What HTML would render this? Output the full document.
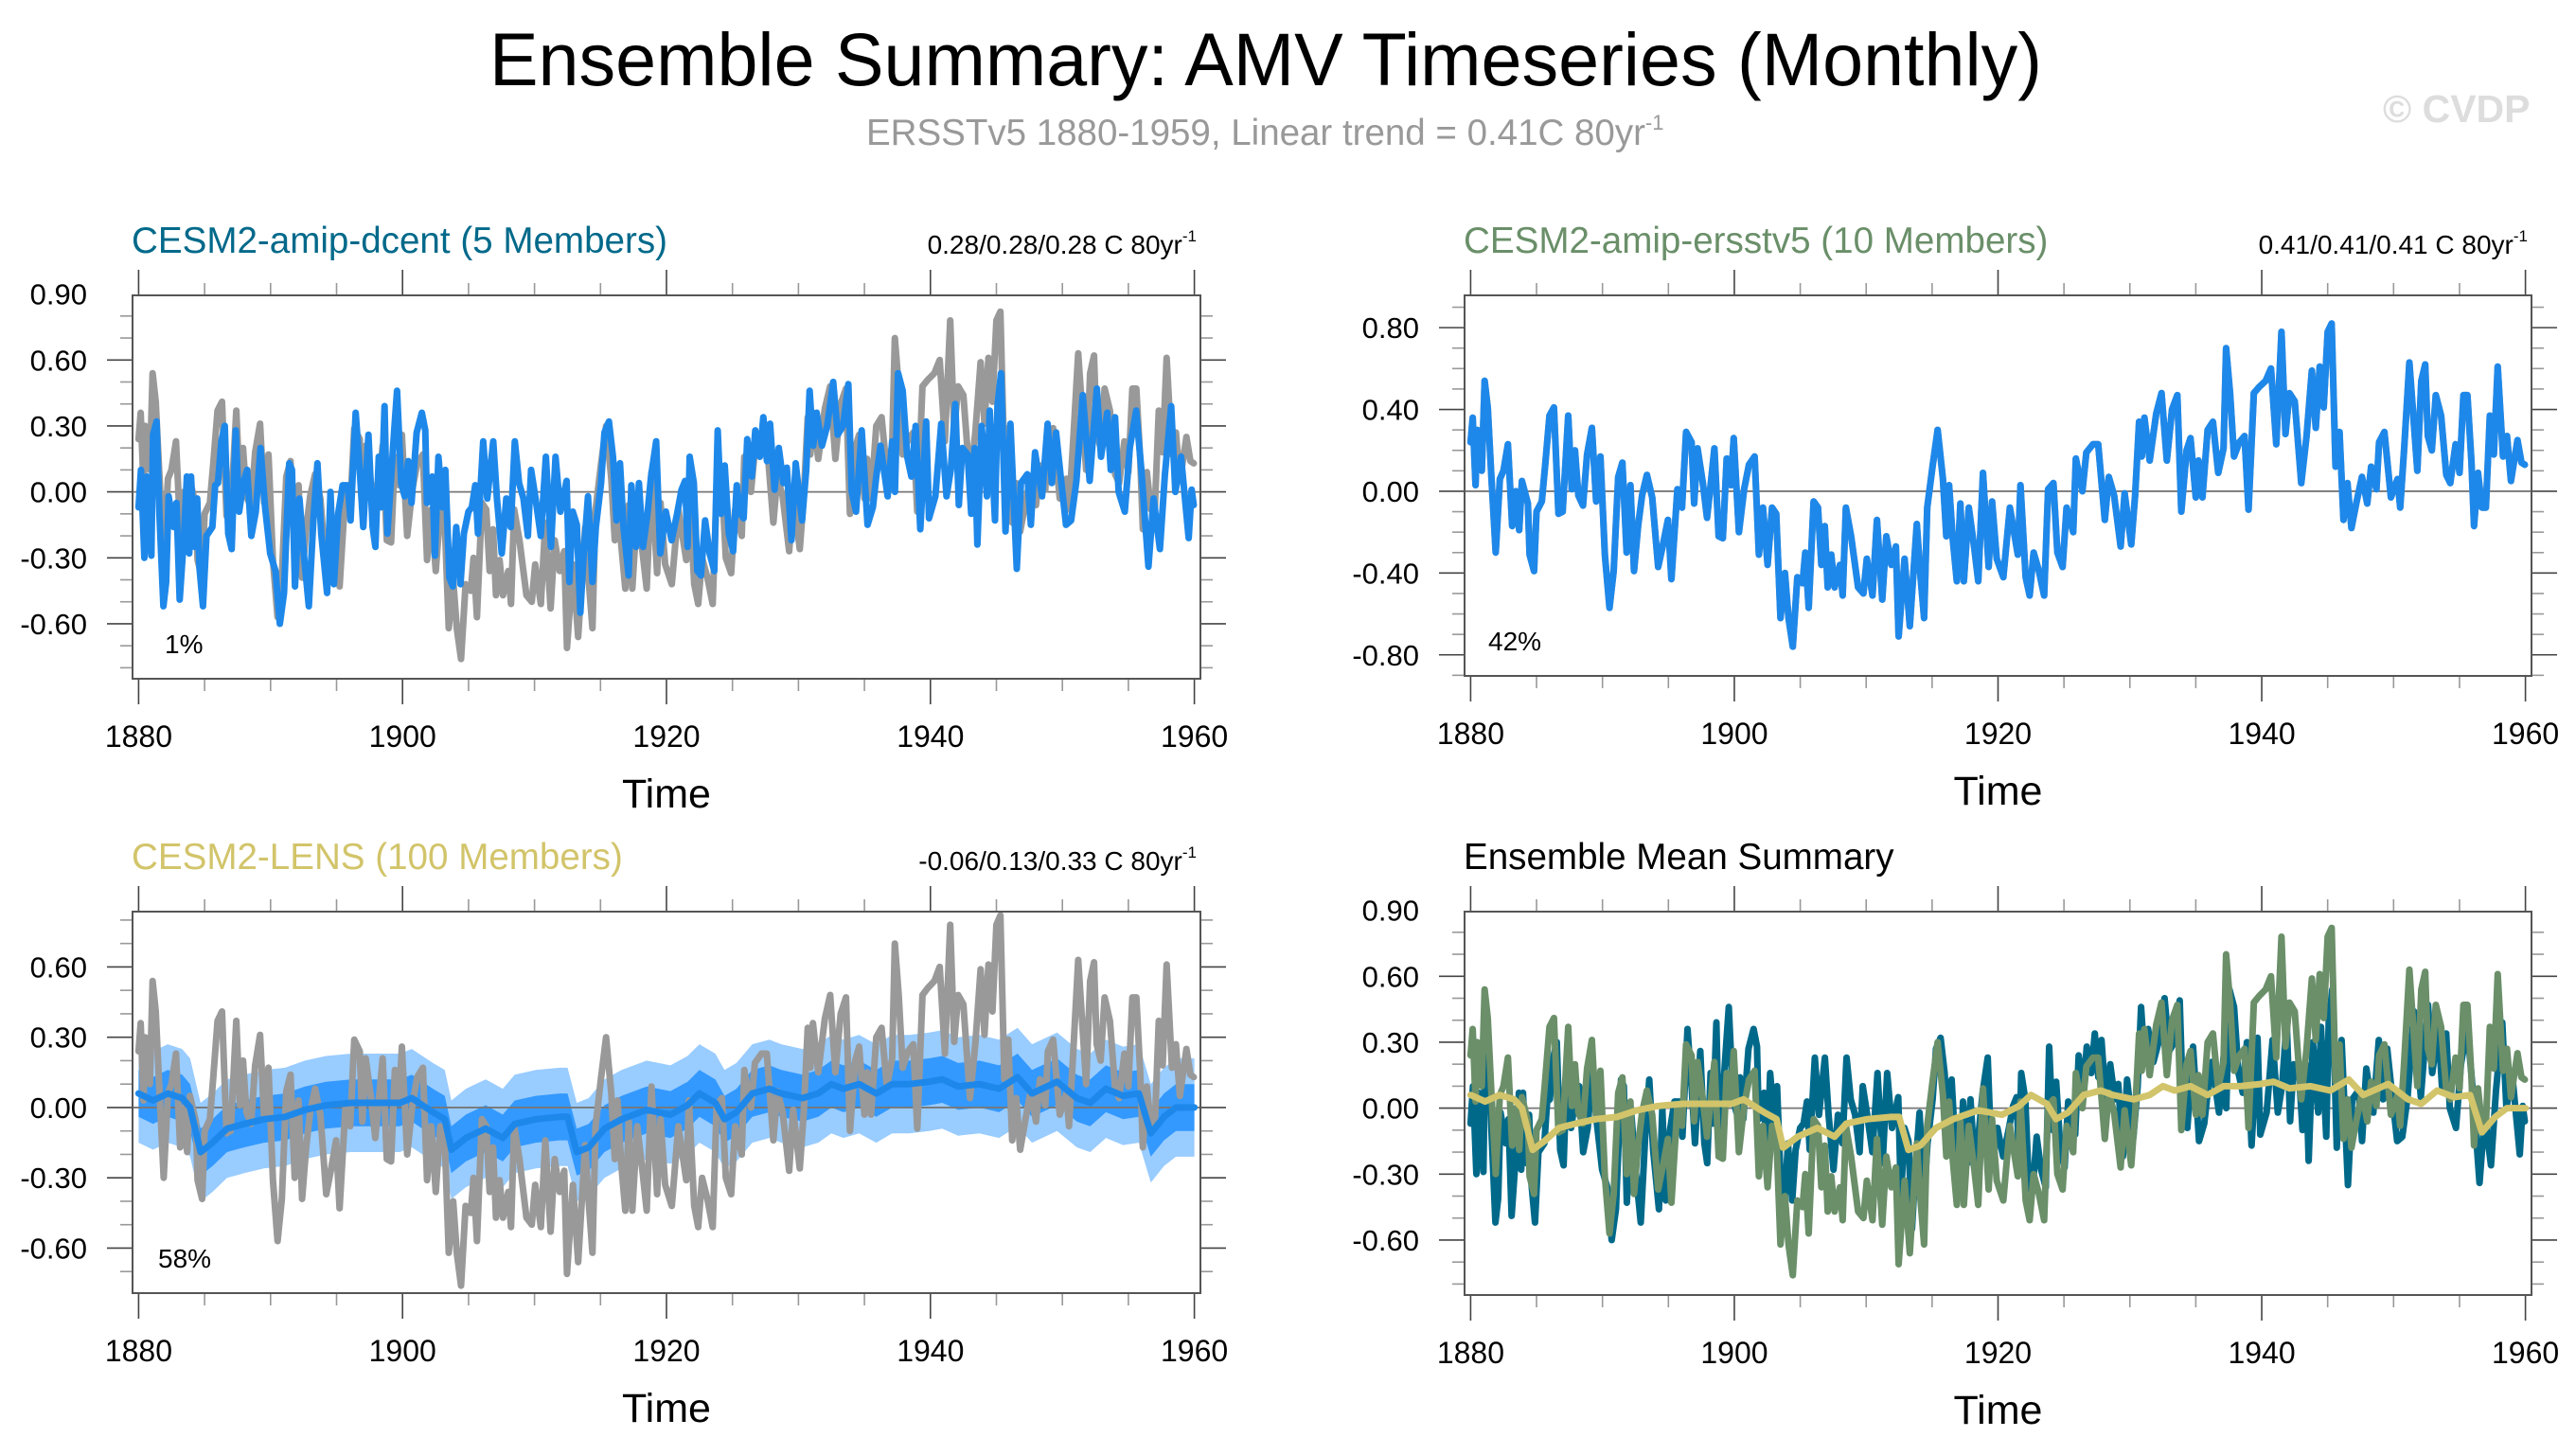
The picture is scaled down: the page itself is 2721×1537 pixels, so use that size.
<!DOCTYPE html>
<html><head><meta charset="utf-8"><title>Ensemble Summary: AMV Timeseries (Monthly)</title>
<style>html,body{margin:0;padding:0;background:#fff}svg{display:block;font-family:"Liberation Sans",Arial,sans-serif}</style>
</head><body>
<svg id="chart" xmlns="http://www.w3.org/2000/svg" width="2721" height="1537" viewBox="0 0 2721 1537">
<rect width="2721" height="1537" fill="#fff"/>
<text x="1337" y="90" font-size="79" text-anchor="middle" textLength="1640" lengthAdjust="spacingAndGlyphs">Ensemble Summary: AMV Timeseries (Monthly)</text>
<text x="915" y="153" font-size="38.5" fill="#999">ERSSTv5 1880-1959, Linear trend = 0.41C 80yr<tspan font-size="22" dy="-16">-1</tspan></text>
<text x="2517" y="129" font-size="41" font-weight="bold" fill="#dddddd">© CVDP</text>
<g id="panels"></g>
</svg>
<script>
// ---------- data (time in years, AMV in °C) ----------
const obsYears = [1880.0,1880.16,1880.37,1880.5,1880.85,1881.06,1881.3,1881.56,1881.9,1882.22,1882.49,1882.83,1883.15,1883.41,1883.68,1883.89,1884.34,1884.47,1884.81,1885.0,1885.4,1885.66,1885.98,1886.32,1886.66,1886.98,1887.4,1887.67,1887.91,1888.17,1888.52,1888.83,1889.2,1889.52,1889.84,1890.18,1890.53,1890.85,1891.19,1891.51,1891.83,1892.12,1892.39,1892.7,1893.0,1893.37,1893.77,1894.22,1894.56,1894.96,1895.23,1895.68,1896.03,1896.34,1896.76,1896.95,1897.21,1897.61,1897.93,1898.2,1898.49,1898.81,1899.13,1899.42,1899.74,1899.95,1900.35,1900.74,1901.11,1901.54,1901.86,1902.17,1902.52,1902.86,1903.18,1903.5,1903.84,1904.11,1904.43,1904.78,1905.17,1905.38,1905.64,1906.01,1906.34,1906.6,1906.86,1907.08,1907.35,1907.61,1908.01,1908.22,1908.46,1908.86,1909.39,1909.79,1910.05,1910.48,1910.82,1911.22,1911.53,1911.91,1912.25,1912.46,1912.91,1913.31,1913.84,1914.1,1914.39,1914.63,1915.03,1915.42,1915.82,1916.08,1916.29,1916.56,1916.88,1917.14,1917.41,1917.78,1918.18,1918.5,1918.86,1919.29,1919.55,1919.9,1920.4,1920.9,1921.5,1921.7,1922.1,1922.4,1922.7,1923.1,1923.5,1923.8,1924.2,1924.5,1924.9,1925.2,1925.7,1925.9,1926.4,1926.7,1927.2,1927.6,1928.1,1928.4,1928.8,1929.3,1929.6,1930.1,1930.4,1930.7,1930.9,1931.1,1931.5,1932.0,1932.4,1932.8,1933.2,1933.6,1933.9,1934.3,1934.6,1935.0,1935.2,1935.5,1935.9,1936.3,1936.7,1937.1,1937.3,1937.6,1937.9,1938.3,1938.7,1939.0,1939.4,1939.8,1940.3,1940.7,1941.1,1941.5,1941.8,1942.1,1942.5,1943.0,1943.4,1943.8,1944.1,1944.4,1944.7,1945.0,1945.3,1945.6,1945.9,1946.2,1946.5,1946.8,1947.2,1947.6,1948.0,1948.3,1948.7,1948.9,1949.3,1949.8,1950.3,1950.5,1950.8,1951.2,1951.8,1952.1,1952.4,1952.6,1952.9,1953.2,1953.6,1954.0,1954.3,1954.7,1955.0,1955.3,1955.6,1955.9,1956.1,1956.4,1956.7,1957.0,1957.3,1957.6,1957.9,1958.3,1958.6,1958.9,1959.4,1959.7,1959.95];
const obsValues = [0.24,0.36,0.03,0.30,0.10,0.54,0.41,0.09,-0.30,0.06,0.10,0.23,-0.17,0.00,-0.19,0.05,-0.06,-0.31,-0.39,-0.10,-0.05,0.13,0.37,0.41,-0.11,-0.10,0.37,0.01,0.20,-0.02,-0.07,0.18,0.31,-0.05,0.17,-0.31,-0.57,-0.39,0.07,0.14,-0.30,0.03,-0.39,-0.17,-0.02,0.08,-0.03,-0.37,-0.27,-0.14,-0.43,0.01,-0.08,0.29,0.24,-0.06,0.21,0.04,-0.13,0.03,0.21,-0.22,-0.23,0.16,0.03,0.26,-0.20,0.01,0.13,0.17,-0.31,-0.08,-0.36,-0.08,-0.11,-0.62,-0.40,-0.62,-0.76,-0.42,-0.45,-0.30,-0.57,-0.05,-0.08,-0.36,-0.17,-0.47,-0.31,-0.47,-0.36,-0.51,-0.08,-0.22,-0.47,-0.50,-0.33,-0.51,-0.14,-0.53,-0.22,-0.36,-0.27,-0.71,-0.33,-0.66,-0.16,-0.40,-0.62,-0.08,0.12,0.30,0.06,-0.22,0.03,-0.23,-0.44,-0.06,-0.44,-0.08,-0.27,-0.44,0.09,-0.37,-0.05,-0.33,-0.42,-0.08,-0.31,0.03,-0.42,-0.51,-0.30,-0.39,-0.51,0.01,0.04,-0.30,-0.37,-0.08,-0.20,0.16,0.00,0.19,0.23,0.23,-0.14,0.07,-0.02,-0.27,-0.01,-0.26,-0.02,0.34,0.17,0.36,0.15,0.38,0.48,0.15,0.40,0.47,-0.10,0.20,0.26,-0.03,0.15,-0.03,0.30,0.34,0.09,0.21,0.70,0.48,0.17,0.24,0.27,-0.09,0.48,0.51,0.54,0.60,0.23,0.78,0.28,0.48,0.44,0.04,0.27,0.59,0.31,0.61,0.41,0.78,0.82,0.12,0.29,-0.14,0.04,-0.18,-0.05,0.07,-0.06,0.12,0.01,0.24,0.29,-0.03,0.06,-0.08,0.21,0.63,0.10,0.54,0.62,0.27,0.20,0.47,0.37,0.08,0.04,0.23,0.09,0.47,0.47,0.15,-0.17,0.09,-0.08,-0.08,0.37,0.18,0.61,0.17,0.27,0.05,0.25,0.14,0.13];

const dcentYears = [1880.0,1880.18,1880.44,1880.63,1880.97,1881.10,1881.36,1881.57,1881.88,1882.09,1882.27,1882.66,1882.87,1883.11,1883.45,1883.66,1883.84,1883.97,1884.23,1884.44,1884.62,1884.88,1885.14,1885.59,1885.80,1886.01,1886.27,1886.53,1886.79,1887.05,1887.36,1887.62,1887.94,1888.22,1888.54,1888.88,1889.24,1889.58,1889.97,1890.37,1890.70,1891.02,1891.41,1891.62,1891.85,1892.19,1892.53,1892.90,1893.24,1893.55,1893.84,1894.28,1894.54,1894.80,1895.12,1895.46,1895.85,1896.06,1896.45,1896.76,1897.02,1897.42,1897.73,1897.94,1898.20,1898.38,1898.64,1898.85,1899.37,1899.58,1899.90,1900.16,1900.42,1900.68,1901.07,1901.46,1901.72,1901.85,1902.25,1902.45,1902.72,1903.03,1903.24,1903.55,1903.81,1904.07,1904.39,1904.65,1904.99,1905.25,1905.51,1905.72,1906.11,1906.42,1906.87,1907.15,1907.52,1907.86,1908.20,1908.51,1908.83,1909.16,1909.50,1909.74,1910.08,1910.47,1910.86,1911.25,1911.59,1911.96,1912.43,1912.64,1912.90,1913.21,1913.47,1913.73,1914.05,1914.39,1914.65,1915.04,1915.30,1915.64,1915.95,1916.21,1916.48,1916.74,1917.13,1917.34,1917.70,1917.91,1918.22,1918.56,1918.83,1919.22,1919.53,1919.95,1920.39,1920.80,1921.14,1921.41,1921.60,1921.76,1922.07,1922.34,1922.61,1922.93,1923.27,1923.62,1923.88,1924.15,1924.41,1924.73,1925.05,1925.32,1925.59,1925.85,1926.12,1926.46,1926.73,1927.07,1927.34,1927.61,1927.85,1928.19,1928.51,1928.86,1929.12,1929.47,1929.79,1930.27,1930.59,1930.85,1931.12,1931.38,1931.78,1932.18,1932.63,1932.98,1933.38,1933.78,1934.04,1934.36,1934.79,1935.24,1935.64,1935.90,1936.22,1936.76,1937.10,1937.31,1937.55,1937.90,1938.24,1938.56,1938.88,1939.23,1939.68,1939.89,1940.37,1940.82,1941.22,1941.54,1941.89,1942.15,1942.42,1942.82,1943.09,1943.35,1943.56,1943.88,1944.28,1944.49,1944.89,1945.08,1945.35,1945.69,1946.06,1946.54,1946.86,1947.34,1947.61,1947.93,1948.46,1948.88,1949.20,1949.52,1949.87,1950.27,1950.66,1951.06,1951.54,1952.07,1952.61,1952.93,1953.40,1953.67,1953.99,1954.26,1954.73,1955.11,1955.59,1955.98,1956.52,1956.91,1957.39,1957.77,1958.24,1958.56,1958.99,1959.57,1959.79,1959.95];
const dcentValues = [-0.07,0.10,-0.30,0.07,-0.29,0.26,0.32,-0.09,-0.52,-0.41,-0.02,-0.16,-0.05,-0.49,-0.19,0.07,-0.28,0.07,-0.25,-0.03,-0.35,-0.52,-0.20,-0.16,0.03,0.04,0.23,0.30,-0.19,-0.26,0.28,-0.09,0.04,0.10,-0.20,-0.09,0.20,-0.07,-0.28,-0.36,-0.60,-0.46,0.13,0.10,-0.43,-0.03,-0.29,-0.52,-0.13,0.13,-0.19,-0.46,0.00,-0.42,-0.10,0.03,0.03,-0.13,0.36,0.10,-0.16,0.26,-0.16,-0.25,0.16,-0.07,0.39,-0.19,0.28,0.46,0.04,-0.02,0.14,-0.05,0.27,0.36,0.28,-0.05,0.07,-0.29,0.16,-0.07,0.10,-0.39,-0.43,-0.16,-0.42,-0.19,-0.09,-0.07,0.03,-0.19,0.23,-0.03,0.23,-0.03,-0.28,-0.03,-0.16,0.23,0.04,-0.03,-0.20,0.10,-0.03,-0.20,0.16,-0.25,0.16,-0.09,0.05,-0.41,-0.09,-0.15,-0.55,-0.28,-0.02,-0.41,-0.16,0.04,0.27,0.32,0.16,-0.13,0.13,-0.16,-0.38,0.03,-0.25,0.04,-0.25,-0.10,0.07,0.23,-0.28,-0.09,-0.22,-0.10,0.01,0.05,-0.25,0.16,0.04,-0.36,-0.38,-0.13,-0.28,-0.36,0.28,-0.10,0.12,-0.19,-0.27,0.03,-0.10,-0.12,0.24,0.07,0.28,0.16,0.34,0.14,0.31,0.01,0.20,0.04,0.11,-0.22,0.13,-0.13,0.10,0.46,0.21,0.36,0.21,0.30,0.50,0.26,0.30,0.49,0.00,-0.09,0.28,-0.15,-0.07,0.07,0.21,-0.02,0.23,0.00,0.54,0.46,0.16,0.07,0.30,-0.17,0.32,-0.12,-0.02,0.31,-0.02,0.10,0.40,-0.06,0.20,0.17,-0.10,0.20,-0.24,0.30,-0.02,0.37,-0.13,0.39,0.54,-0.18,0.31,-0.35,0.04,0.08,-0.15,0.18,-0.02,0.31,0.04,0.27,0.07,-0.15,-0.13,0.05,0.44,0.05,0.47,0.16,0.36,0.10,0.34,0.00,-0.09,0.20,0.37,0.10,-0.34,-0.03,-0.26,0.08,0.39,0.00,0.16,-0.21,0.01,-0.06];

const lensYears = [1880.0,1881.1,1882.2,1883.3,1883.9,1884.7,1885.6,1886.7,1888.0,1889.5,1891.1,1892.6,1894.2,1896.1,1897.9,1899.8,1900.7,1902.3,1903.2,1903.7,1904.8,1906.3,1907.6,1908.5,1910.1,1911.9,1912.5,1913.2,1914.1,1915.3,1916.6,1918.5,1920.3,1921.6,1922.5,1923.7,1924.4,1925.3,1926.5,1927.8,1928.7,1930.3,1931.5,1932.5,1933.4,1934.6,1935.9,1937.1,1938.4,1939.9,1940.9,1942.1,1943.7,1945.2,1946.6,1947.7,1949.6,1951.1,1952.1,1953.3,1954.6,1955.8,1956.7,1957.7,1958.6,1960.0];
const lensMean = [0.06,0.03,0.06,0.04,0.00,-0.19,-0.15,-0.09,-0.07,-0.05,-0.04,-0.01,0.01,0.02,0.02,0.02,0.04,-0.02,-0.05,-0.18,-0.13,-0.09,-0.13,-0.07,-0.05,-0.04,-0.04,-0.19,-0.17,-0.09,-0.05,-0.01,-0.03,0.01,0.06,0.02,-0.05,-0.02,0.06,0.08,0.06,0.04,0.06,0.10,0.08,0.10,0.06,0.10,0.10,0.11,0.12,0.09,0.10,0.08,0.13,0.06,0.11,0.04,0.02,0.08,0.05,0.06,-0.11,-0.04,0.00,0.00];
const lensInnerHalfWidth = [0.10];   // 25th-75th percentile half spread
const lensOuterHalfWidth = [0.21];   // 10th-90th percentile half spread

// amip-ersstv5 ensemble mean follows observations almost exactly
const ersstYears = obsYears;
const ersstValues = obsValues;

const xTickYears = [1880,1900,1920,1940,1960];
const yTicksA = [0.90,0.60,0.30,0.00,-0.30,-0.60];
const yTicksB = [0.80,0.40,0.00,-0.40,-0.80];
const yTicksC = [0.60,0.30,0.00,-0.30,-0.60];

// ---------- drawing ----------
const NS = 'http://www.w3.org/2000/svg';
const root = document.getElementById('panels');
function mk(tag, attrs, parent){ const e=document.createElementNS(NS,tag); for(const k in attrs) e.setAttribute(k,attrs[k]); (parent||root).appendChild(e); return e; }

function panel(cfg){
  const g = mk('g',{});
  
  
  const X = t => cfg.x0 + (t - 1879.54) / (1960.46 - 1879.54) * (cfg.x1 - cfg.x0);
  const Y = v => cfg.y1 - (v - cfg.ymin) / (cfg.ymax - cfg.ymin) * (cfg.y1 - cfg.y0);
  cfg.X = X; cfg.Y = Y; cfg.g = g;
  const tg = mk('g',{}, g);
  
  
  for (let yr = 1880; yr <= 1960; yr += 5) {
    const major = (yr % 20 === 0), L = major ? 27 : 13, x = X(yr);
    const col = major ? '#444' : '#999';
    mk('line',{x1:x,x2:x,y1:cfg.y0,y2:cfg.y0-L,stroke:col,'stroke-width':1.6},tg);
    mk('line',{x1:x,x2:x,y1:cfg.y1,y2:cfg.y1+L,stroke:col,'stroke-width':1.6},tg);
  }
  const lo = Math.ceil(cfg.ymin*10-1e-6), hi = Math.floor(cfg.ymax*10+1e-6);
  for (let k = lo; k <= hi; k++) {
    const v = k/10, major = cfg.yTicks.some(t => Math.abs(t - v) < 1e-6), L = major ? 27 : 13, y = Y(v);
    const col = major ? '#444' : '#999';
    mk('line',{x1:cfg.x0,x2:cfg.x0-L,y1:y,y2:y,stroke:col,'stroke-width':1.6},tg);
    mk('line',{x1:cfg.x1,x2:cfg.x1+L,y1:y,y2:y,stroke:col,'stroke-width':1.6},tg);
  }
  cfg.yTicks.forEach(v => {
    const t = mk('text',{x:cfg.x0-48,y:Y(v)+11,'font-size':31,'text-anchor':'end'},g);
    t.textContent = v.toFixed(2);
    
    
  });
  xTickYears.forEach(yr => {
    const t = mk('text',{x:X(yr),y:cfg.y1+72,'font-size':32,'text-anchor':'middle'},g);
    t.textContent = String(yr);
    
    
  });
  const xt = mk('text',{x:(cfg.x0+cfg.x1)/2,y:cfg.y1+136,'font-size':43,'text-anchor':'middle'},g);
  xt.textContent = 'Time';
  
  
  const tt = mk('text',{x:cfg.x0-1,y:cfg.y0-45,'font-size':38.6,fill:cfg.titleColor},g);
  tt.textContent = cfg.title;
  
  
  if (cfg.trend) {
    const tr = mk('text',{x:cfg.x1-4,y:cfg.y0-44,'font-size':28,'text-anchor':'end'},g);
    
    
    tr.appendChild(document.createTextNode(cfg.trend + ' C 80yr'));
    const s = mk('tspan',{'font-size':17,dy:-13},tr); s.textContent='-1';
  }
  if (cfg.pct) {
    const p = mk('text',{x:cfg.pctX,y:cfg.y1-27,'font-size':28},g);
    p.textContent = cfg.pct;
    
    
  }
  const cid = 'clip-' + cfg.name;
  const cp = mk('clipPath',{id:cid},g);
  mk('rect',{x:cfg.x0,y:cfg.y0,width:cfg.x1-cfg.x0,height:cfg.y1-cfg.y0},cp);
  const plot = mk('g',{'clip-path':'url(#'+cid+')'},g);
  
  
  cfg.plot = plot;
  return cfg;
}
function zeroLine(c){
  const l = mk('line',{x1:c.x0,x2:c.x1,y1:c.Y(0),y2:c.Y(0),stroke:'#777','stroke-width':1.8},c.plot);
  
  
}
function series(c, years, vals, color, name, w){
  const pts = years.map((t,i) => c.X(t).toFixed(1) + ',' + c.Y(vals[i]).toFixed(1)).join(' ');
  const p = mk('polyline',{points:pts,fill:'none',stroke:color,'stroke-width':w||7,'stroke-linejoin':'round','stroke-linecap':'round'},c.plot);
  
  
}
function band(c, years, mean, half, color, name){
  const up = years.map((t,i) => c.X(t).toFixed(1)+','+c.Y(mean[i]+half).toFixed(1));
  const dn = years.map((t,i) => c.X(t).toFixed(1)+','+c.Y(mean[i]-half).toFixed(1)).reverse();
  const p = mk('polygon',{points:up.concat(dn).join(' '),fill:color,stroke:'none'},c.plot);
  
  
}
function frame(c){
  const r = mk('rect',{x:c.x0,y:c.y0,width:c.x1-c.x0,height:c.y1-c.y0,fill:'none',stroke:'#555','stroke-width':2},c.g);
  
  
}

const p1 = panel({name:'panel-amip-dcent',x0:140,x1:1268,y0:312,y1:717,ymin:-0.85,ymax:0.894,yTicks:yTicksA,
  title:'CESM2-amip-dcent (5 Members)',titleColor:'#00698a',trend:'0.28/0.28/0.28',pct:'1%',pctX:174});
zeroLine(p1);
series(p1, obsYears, obsValues, '#999999', 'observed-amv-line');
series(p1, dcentYears, dcentValues, '#1e88ea', 'amip-dcent-mean-line');
frame(p1);

const p2 = panel({name:'panel-amip-ersstv5',x0:1547,x1:2674,y0:312,y1:714,ymin:-0.903,ymax:0.958,yTicks:yTicksB,
  title:'CESM2-amip-ersstv5 (10 Members)',titleColor:'#6a8f69',trend:'0.41/0.41/0.41',pct:'42%',pctX:1572});
zeroLine(p2);
series(p2, obsYears, obsValues, '#999999', 'observed-amv-line');
series(p2, ersstYears, ersstValues, '#1e88ea', 'amip-ersstv5-mean-line');
frame(p2);

const p3 = panel({name:'panel-cesm2-lens',x0:140,x1:1268,y0:963,y1:1366,ymin:-0.792,ymax:0.836,yTicks:yTicksC,
  title:'CESM2-LENS (100 Members)',titleColor:'#d2c46a',trend:'-0.06/0.13/0.33',pct:'58%',pctX:167});
band(p3, lensYears, lensMean, lensOuterHalfWidth[0], '#99ccff', 'lens-outer-spread-band');
band(p3, lensYears, lensMean, lensInnerHalfWidth[0], '#3399ff', 'lens-inner-spread-band');
zeroLine(p3);
series(p3, obsYears, obsValues, '#999999', 'observed-amv-line');
series(p3, lensYears, lensMean, '#1e88ea', 'lens-ensemble-mean-line');
frame(p3);

const p4 = panel({name:'panel-ensemble-mean-summary',x0:1547,x1:2674,y0:963,y1:1368,ymin:-0.85,ymax:0.894,yTicks:yTicksA,
  title:'Ensemble Mean Summary',titleColor:'#000'});
zeroLine(p4);
series(p4, dcentYears, dcentValues, '#00698a', 'amip-dcent-mean-line');
series(p4, ersstYears, ersstValues, '#6a8f69', 'amip-ersstv5-mean-line');
series(p4, lensYears, lensMean, '#d2c46a', 'lens-ensemble-mean-line');
frame(p4);
</script>
</body></html>
